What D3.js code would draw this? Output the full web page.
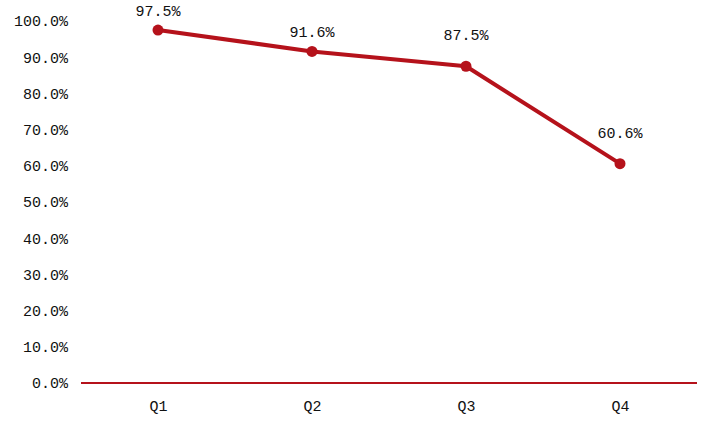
<!DOCTYPE html>
<html>
<head>
<meta charset="utf-8">
<script src="https://cdn.jsdelivr.net/npm/d3@7"></script>
<style>
  body { margin: 0; background: #fff; }
  text { font-family: "Liberation Mono", "DejaVu Sans Mono", monospace; fill: #111; }
</style>
</head>
<body>
<svg id="chart" width="720" height="432"></svg>
<script>
// quarters and their rates
const quarters = ["Q1", "Q2", "Q3", "Q4"];
const rates = [0.975, 0.916, 0.875, 0.606];
const yTicks = [0, 0.1, 0.2, 0.3, 0.4, 0.5, 0.6, 0.7, 0.8, 0.9, 1.0];

// how far each value label sits above its dot
const labelLift = [14, 14, 26, 26];

const svg = d3.select("#chart");
const plotLeft = 81, plotRight = 697, plotTop = 21, plotBottom = 383;
const red = "#b5121b";

let x = d3.scalePoint().domain(quarters).range([plotLeft, plotRight]).padding(0.5);
let y = d3.scaleLinear().domain([0, 1]).range([plotBottom, plotTop]);

// y labels, no axis line
let yAxis = d3.axisLeft(y).tickValues(yTicks).tickSize(0).tickPadding(13)
  .tickFormat(d => d3.format(".1f")(d * 100) + "%");
svg.append("g")
  .attr("transform", `translate(${plotLeft}, 0)`)
  .call(yAxis)
  .call(g => g.select(".domain").remove())
  .selectAll("text")
    .style("font-size", "15px")
    .style("font-family", "Liberation Mono");

// x axis: just the red baseline and labels
let xAxis = d3.axisBottom(x).tickSize(0).tickPadding(17);
svg.append("g")
  .attr("transform", `translate(0, ${plotBottom})`)
  .call(xAxis)
  .call(g => g.select(".domain").remove())
  .selectAll("text")
    .style("font-size", "15px")
    .style("font-family", "Liberation Mono");

svg.append("line")
  .attr("x1", plotLeft).attr("x2", plotRight)
  .attr("y1", y(0)).attr("y2", y(0))
  .attr("stroke", red).attr("stroke-width", 2);

let data = quarters.map((q, i) => ({ q: q, v: rates[i], i: i }));

let lineGen = d3.line()
  .x(d => x(d.q))
  .y(d => y(d.v));

svg.append("path")
  .attr("d", lineGen(data))
  .attr("fill", "none")
  .attr("stroke", red)
  .attr("stroke-width", 4)
  .attr("stroke-linejoin", "round");

svg.selectAll(".dot")
  .data(data)
  .enter().append("circle")
  .attr("class", "dot")
  .attr("cx", d => x(d.q))
  .attr("cy", d => y(d.v))
  .attr("r", 5.5)
  .attr("fill", red);

svg.selectAll(".val")
  .data(data)
  .enter().append("text")
  .attr("class", "val")
  .attr("x", d => x(d.q))
  .attr("y", d => y(d.v) - labelLift[d.i])
  .attr("text-anchor", "middle")
  .style("font-size", "15px")
  .text(d => d3.format(".1f")(d.v * 100) + "%");
</script>
</body>
</html>
